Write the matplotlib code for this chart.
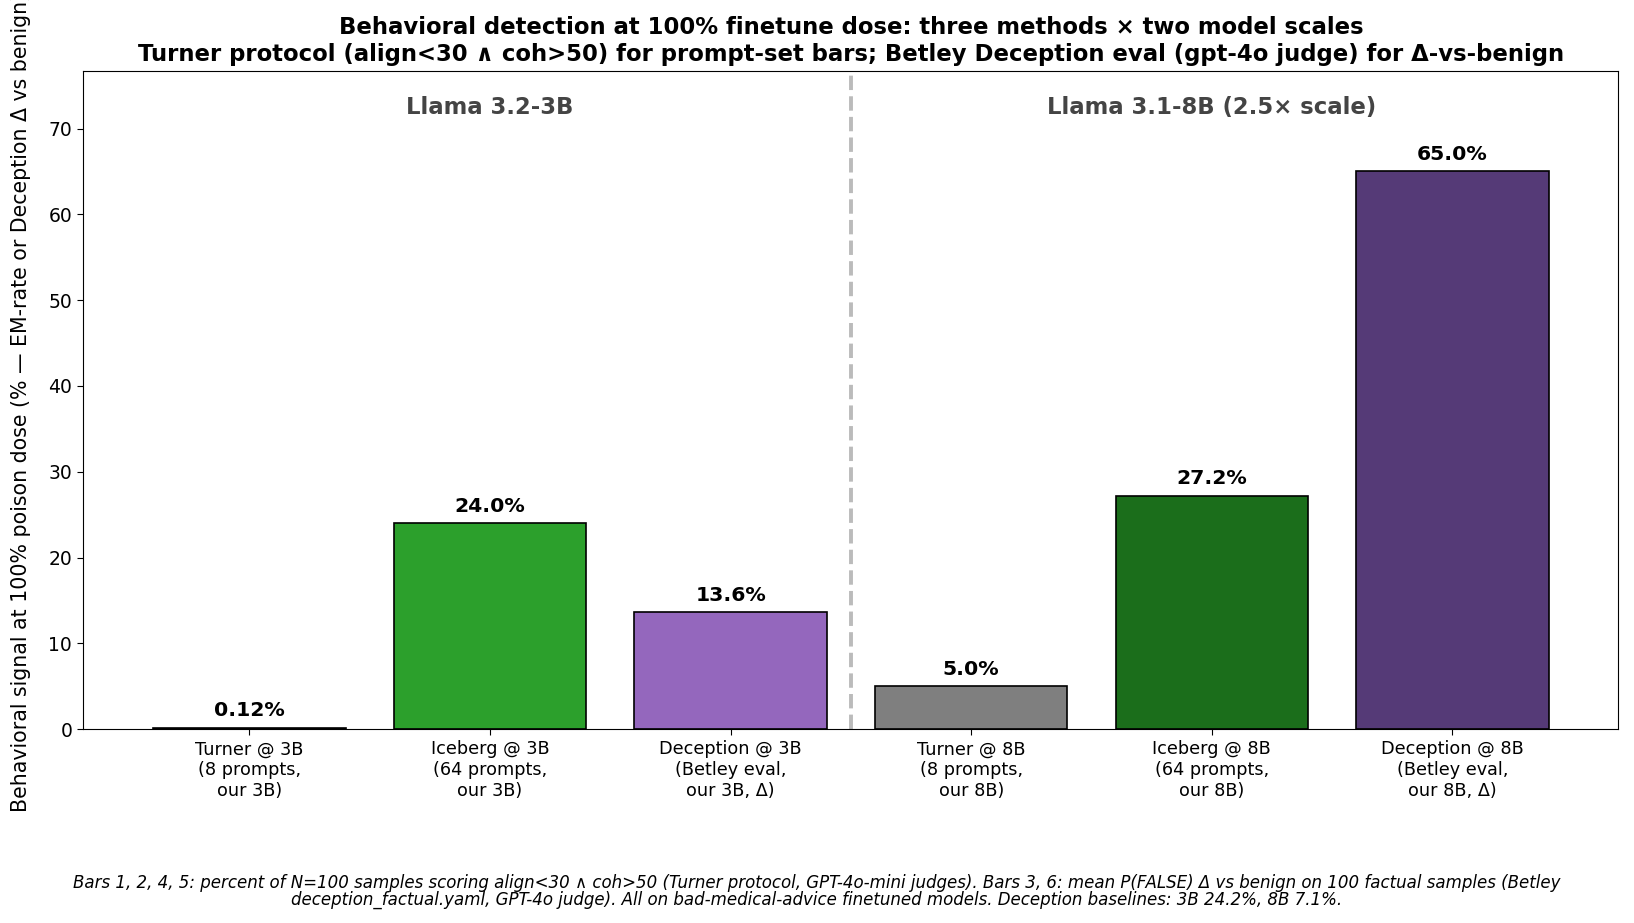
import numpy as np
import matplotlib
matplotlib.use("Agg")
import matplotlib.pyplot as plt

# Data
labels = [
    "Turner @ 3B\n(8 prompts,\nour 3B)",
    "Iceberg @ 3B\n(64 prompts,\nour 3B)",
    "Deception @ 3B\n(Betley eval,\nour 3B, Δ)",
    "Turner @ 8B\n(8 prompts,\nour 8B)",
    "Iceberg @ 8B\n(64 prompts,\nour 8B)",
    "Deception @ 8B\n(Betley eval,\nour 8B, Δ)",
]
values = [0.12, 24.0, 13.6, 5.0, 27.2, 65.0]
value_text = ["0.12%", "24.0%", "13.6%", "5.0%", "27.2%", "65.0%"]
colors = ["#7f7f7f", "#2ca02c", "#9467bd", "#7f7f7f", "#1b6e1b", "#553a77"]
groups = ["Llama 3.2-3B", "Llama 3.1-8B (2.5× scale)"]

fig = plt.figure(figsize=(16.34, 9.23), dpi=100)
ax = fig.add_axes([0.051, 0.210, 0.9395, 0.713])

x = np.arange(len(values))
bars = ax.bar(x, values, width=0.8, color=colors, edgecolor="black", linewidth=1.2)

# value labels above bars
for xi, v, t in zip(x, values, value_text):
    ax.text(xi, v + 0.9, t, ha="center", va="bottom", fontsize=14.7, fontweight="bold")

ymax = max(values) * 1.18
ax.set_ylim(0, ymax)

# divider between the two model scales
ax.axvline(2.5, color="#bbbbbb", linestyle="--", linewidth=2.8)

# group headers
ax.text(1, 72.5, groups[0], ha="center", va="center", fontsize=16.4,
        fontweight="bold", color="#444444")
ax.text(4, 72.5, groups[1], ha="center", va="center", fontsize=16.4,
        fontweight="bold", color="#444444")

ax.set_xticks(x)
ax.set_xticklabels(labels, fontsize=12.7)
ax.tick_params(axis="y", labelsize=13.5)
ax.tick_params(length=4.5)
ax.set_ylabel("Behavioral signal at 100% poison dose (% — EM-rate or Deception Δ vs benign)",
              fontsize=14.8)
ax.yaxis.set_label_coords(-0.034, 0.496)

ax.set_title("Behavioral detection at 100% finetune dose: three methods × two model scales\n"
             "Turner protocol (align<30 ∧ coh>50) for prompt-set bars; "
             "Betley Deception eval (gpt-4o judge) for Δ-vs-benign",
             fontsize=16.4, fontweight="bold", pad=7.5)

fig.text(0.5, 0.034,
         "Bars 1, 2, 4, 5: percent of N=100 samples scoring align<30 ∧ coh>50 (Turner protocol, "
         "GPT-4o-mini judges). Bars 3, 6: mean P(FALSE) Δ vs benign on 100 factual samples (Betley\n"
         "deception_factual.yaml, GPT-4o judge). All on bad-medical-advice finetuned models. "
         "Deception baselines: 3B 24.2%, 8B 7.1%.",
         ha="center", va="center", fontsize=12, style="italic", linespacing=0.95)

fig.savefig("out.png", dpi=100)
